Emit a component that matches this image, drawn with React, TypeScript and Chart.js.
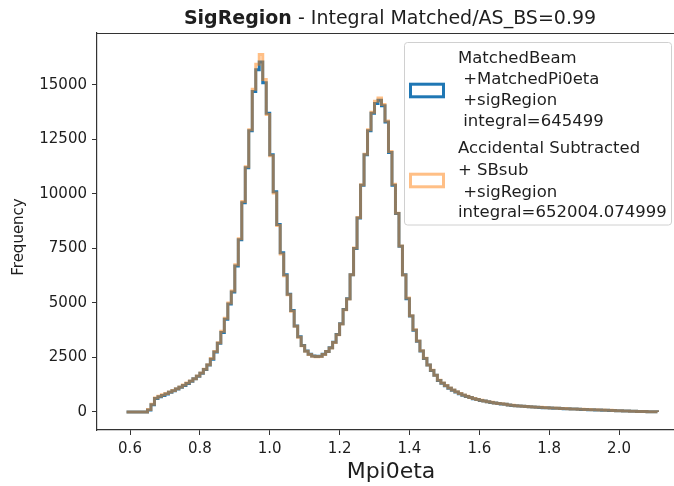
import React, { useEffect, useRef } from "react";
import { Chart, registerables } from "chart.js";

Chart.register(...registerables);

// ---- data ----
const binStart = 0.59;
const binWidth = 0.01;

const matchedCounts = [
  0, 0, 0, 0, 0, 0, 0, 90, 330, 620,
  700, 760, 830, 900, 970, 1050, 1130, 1220, 1310, 1410,
  1520, 1640, 1780, 1950, 2160, 2420, 2750, 3150, 3650, 4250,
  4950, 5500, 6700, 7900, 9600, 11200, 12900, 14700, 15700, 16050,
  15100, 13700, 11800, 10100, 8600, 7300, 6300, 5400, 4650, 3950,
  3450, 3050, 2800, 2650, 2570, 2540, 2560, 2650, 2780, 2950,
  3200, 3550, 4050, 4700, 5200, 6300, 7500, 8900, 10400, 11800,
  12900, 13700, 14150, 14300, 14050, 13300, 11900, 10400, 9100, 7600,
  6300, 5200, 4400, 3750, 3250, 2800, 2450, 2150, 1900, 1680,
  1450, 1320, 1200, 1090, 1000, 920, 840, 770, 710, 660,
  610, 570, 530, 500, 470, 440, 410, 390, 370, 350,
  320, 300, 285, 272, 260, 250, 240, 230, 220, 210,
  200, 190, 182, 175, 168, 160, 152, 145, 140, 135,
  128, 120, 115, 108, 100, 95, 90, 85, 80, 72,
  66, 60, 54, 48, 42, 36, 30, 26, 22, 18,
  14, 10,
];

const subtractedCounts = [
  0, 0, 0, 0, 0, 0, 0, 110, 360, 640,
  720, 790, 850, 920, 990, 1070, 1150, 1240, 1330, 1420,
  1530, 1650, 1790, 1960, 2170, 2450, 2780, 3180, 3700, 4300,
  5000, 5550, 6750, 7950, 9650, 11250, 12950, 14800, 15950, 16400,
  15250, 13650, 11750, 10050, 8550, 7250, 6250, 5380, 4620, 3930,
  3430, 3040, 2790, 2640, 2560, 2530, 2550, 2640, 2770, 2940,
  3190, 3540, 4040, 4690, 5180, 6300, 7520, 8920, 10420, 11820,
  12950, 13750, 14250, 14400, 14100, 13350, 11950, 10450, 9120, 7620,
  6280, 5230, 4420, 3770, 3260, 2810, 2460, 2160, 1910, 1690,
  1460, 1330, 1210, 1100, 1010, 930, 850, 780, 720, 670,
  620, 575, 535, 505, 475, 445, 418, 395, 375, 355,
  325, 305, 290, 276, 264, 254, 243, 233, 223, 213,
  203, 193, 185, 178, 170, 163, 155, 148, 143, 138,
  131, 124, 120, 113, 106, 100, 95, 88, 82, 75,
  68, 62, 56, 50, 44, 38, 32, 27, 23, 19,
  15, 11,
];

const xTicks = [0.6, 0.8, 1.0, 1.2, 1.4, 1.6, 1.8, 2.0];
const yTicks = [0, 2500, 5000, 7500, 10000, 12500, 15000];

const titleBold = "SigRegion";
const titleRest = " - Integral Matched/AS_BS=0.99";
const xTitle = "Mpi0eta";
const yTitle = "Frequency";
const legendMatched = ["MatchedBeam", " +MatchedPi0eta", " +sigRegion", " integral=645499"];
const legendSubtracted = ["Accidental Subtracted", "+ SBsub", " +sigRegion", "integral=652004.074999"];

const BLUE = "#1f77b4";
const ORANGE = "rgba(255,127,14,0.5)";
const FONT = '"DejaVu Sans", sans-serif';
const TEXT = "#1e1e1e";

function stepPoints(counts: number[]) {
  const pts: { x: number; y: number }[] = [];
  counts.forEach((c, i) => pts.push({ x: binStart + i * binWidth, y: c }));
  const end = binStart + counts.length * binWidth;
  pts.push({ x: end, y: counts[counts.length - 1] });
  pts.push({ x: end, y: 0 });
  return pts;
}

const decorPlugin = {
  id: "decor",
  afterDraw(chart: any) {
    const { ctx, chartArea: a } = chart;
    ctx.save();
    // top spine
    ctx.strokeStyle = "#333";
    ctx.lineWidth = 1.2;
    ctx.beginPath();
    ctx.moveTo(a.left, a.top + 0.5);
    ctx.lineTo(a.right, a.top + 0.5);
    ctx.stroke();

    // title
    ctx.fillStyle = TEXT;
    ctx.textAlign = "left";
    ctx.textBaseline = "alphabetic";
    ctx.font = `bold 19px ${FONT}`;
    const w1 = ctx.measureText(titleBold).width;
    ctx.font = `19px ${FONT}`;
    const w2 = ctx.measureText(titleRest).width;
    const tx = 390 - (w1 + w2) / 2;
    ctx.font = `bold 19px ${FONT}`;
    ctx.fillText(titleBold, tx, 24);
    ctx.font = `19px ${FONT}`;
    ctx.fillText(titleRest, tx + w1, 24);

    // x title
    ctx.font = `22px ${FONT}`;
    ctx.textAlign = "center";
    ctx.fillText(xTitle, 391, 478);

    // y title
    ctx.save();
    ctx.translate(19, 237);
    ctx.rotate(-Math.PI / 2);
    ctx.font = `15px ${FONT}`;
    ctx.textBaseline = "middle";
    ctx.fillText(yTitle, 0, 0);
    ctx.restore();

    // legend
    ctx.beginPath();
    ctx.roundRect(404.5, 42.5, 267, 182.5, 3);
    ctx.fillStyle = "rgba(255,255,255,0.8)";
    ctx.fill();
    ctx.strokeStyle = "#d0d0d0";
    ctx.lineWidth = 1;
    ctx.stroke();

    ctx.lineWidth = 3;
    ctx.strokeStyle = BLUE;
    ctx.strokeRect(410.5, 84.2, 33, 12.6);
    ctx.strokeStyle = ORANGE;
    ctx.strokeRect(410.5, 174.2, 33, 12.6);

    ctx.fillStyle = TEXT;
    ctx.textAlign = "left";
    ctx.textBaseline = "alphabetic";
    ctx.font = `16.5px ${FONT}`;
    const b1 = [63.3, 83.8, 105, 126];
    const b2 = [153.3, 175, 196.7, 216.7];
    legendMatched.forEach((t, i) => ctx.fillText(t, 458, b1[i]));
    legendSubtracted.forEach((t, i) => ctx.fillText(t, 458, b2[i]));
    ctx.restore();
  },
};

export default function App() {
  const ref = useRef<HTMLCanvasElement>(null);
  useEffect(() => {
    if (!ref.current) return;
    const chart = new Chart(ref.current, {
      type: "line",
      data: {
        datasets: [
          {
            label: "matched",
            data: stepPoints(matchedCounts),
            borderColor: BLUE,
            borderWidth: 3,
            stepped: "after",
            pointRadius: 0,
            fill: false,
            order: 1,
          },
          {
            label: "subtracted",
            data: stepPoints(subtractedCounts),
            borderColor: ORANGE,
            borderWidth: 3,
            stepped: "after",
            pointRadius: 0,
            fill: false,
            order: 0,
          },
        ],
      },
      options: {
        animation: false,
        responsive: false,
        devicePixelRatio: 1,
        parsing: false,
        layout: { padding: { top: 33, left: 0, right: 0, bottom: 0 } },
        plugins: {
          legend: { display: false },
          title: { display: false },
          tooltip: { enabled: false },
        },
        scales: {
          x: {
            type: "linear",
            min: 0.5055,
            max: 2.1574,
            afterBuildTicks: (s: any) => {
              s.ticks = xTicks.map((v) => ({ value: v }));
            },
            afterFit: (s: any) => {
              s.height = 56;
            },
            grid: {
              display: true,
              drawOnChartArea: false,
              drawTicks: true,
              tickLength: 5,
              color: "#333",
              lineWidth: 1,
            },
            border: { display: true, color: "#333", width: 1.2 },
            ticks: {
              font: { family: FONT, size: 15 },
              color: TEXT,
              padding: 5,
              maxRotation: 0,
              autoSkip: false,
              callback: (v: any) => Number(v).toFixed(1),
            },
          },
          y: {
            type: "linear",
            min: -826,
            max: 17385,
            afterBuildTicks: (s: any) => {
              s.ticks = yTicks.map((v) => ({ value: v }));
            },
            afterFit: (s: any) => {
              s.width = 97;
            },
            grid: {
              display: true,
              drawOnChartArea: false,
              drawTicks: true,
              tickLength: 5,
              color: "#333",
              lineWidth: 1,
            },
            border: { display: true, color: "#333", width: 1.2 },
            ticks: {
              font: { family: FONT, size: 15 },
              color: TEXT,
              padding: 5,
              autoSkip: false,
              callback: (v: any) => String(v),
            },
          },
        },
      },
      plugins: [decorPlugin],
    } as any);
    return () => chart.destroy();
  }, []);
  return (
    <div style={{ position: "absolute", left: 0, top: 0, width: 674, height: 486, background: "#fff" }}>
      <canvas ref={ref} width={674} height={486} style={{ display: "block" }} />
    </div>
  );
}
